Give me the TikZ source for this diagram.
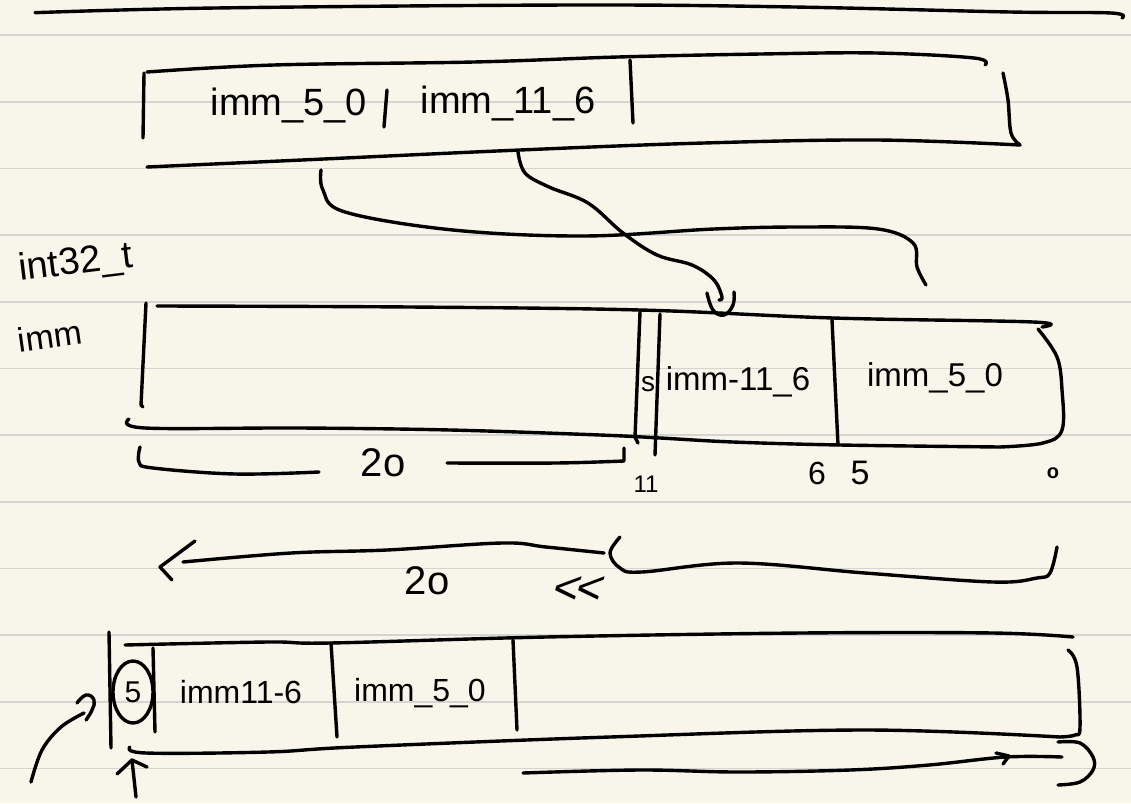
\documentclass[tikz,border=0pt]{standalone}
\usepackage{fontspec}
\setmainfont{Liberation Sans}
\definecolor{paper}{HTML}{F8F6EA}
\definecolor{ruling}{HTML}{D4D4D0}
\begin{document}
\begin{tikzpicture}[x=1pt,y=-1pt,
  ink/.style={line width=3.4pt,line cap=round,line join=round,black},
  txt/.style={inner sep=0pt,font=\fontsize{#1}{#1}\selectfont}]
% notebook page
\fill[paper] (0,0) rectangle (1131,803);
\useasboundingbox (0,0) rectangle (1131,803);
\foreach \y in {35,101.7,168.3,235,301.7,368.3,435,501.7,568.3,635,701.7,768.3}
  \draw[ruling,line width=1.6pt] (0,\y) -- (1131,\y);

% heading rule
\draw[ink] plot[smooth,tension=0.6] coordinates {(35,12.7) (216,8) (577,5) (794,7) (1010,12) (1111,13) (1122,18)};

% ---- instruction word ----
\draw[ink] (144,73) -- (143,138);
\draw[ink] plot[smooth,tension=0.6] coordinates {(147,72) (274,65) (474,62) (618,57) (761,54) (876,53) (974,58) (985,65)};
\draw[ink] plot[smooth,tension=0.6] coordinates {(1003,73) (1008,100) (1011,133) (1020,145)};
\draw[ink] plot[smooth,tension=0.6] coordinates {(147,167) (302,160) (520,150) (704,143) (876,140) (1020,145)};
\draw[ink] (387,90) -- (384,127);
\draw[ink] (630,60) -- (633,123);
\node[txt=38] (i50) at (289,106) {imm\_5\_0};
\node[txt=38] (i116) at (508,104) {imm\_11\_6};

% endpoints of the two field moves
\coordinate (a0) at (321,170);
\coordinate (a1) at (926,285);
\coordinate (b0) at (518,152);
\coordinate (b1) at (722,297);
\draw[ink] plot[smooth,tension=0.6] coordinates {(a0) (323,190) (345,212) (453,230) (584,236) (714,229) (800,227) (878,229) (913,243) (917,267) (a1)};
\draw[ink] plot[smooth,tension=0.6] coordinates {(b0) (525,173) (549,187) (588,203) (623,233) (657,255) (692,265) (714,280) (b1) (719,300)};
\draw[ink] plot[smooth,tension=0.7] coordinates {(707,293) (713,310) (724,315) (733,305) (734,292)};

% ---- int32_t imm ----
\node[txt=38,rotate=7] (ty) at (76,264) {int32\_t};
\node[txt=34,rotate=8] (nm) at (50,336) {imm};

\draw[ink] (146,303) -- (141,405) -- (143,407);
\draw[ink] plot[smooth,tension=0.6] coordinates {(157,306) (410,307) (640,310) (833,318) (1033,322) (1042,327)};
\draw[ink] plot[smooth,tension=0.6] coordinates {(1038,329) (1057,357) (1062,390) (1062,430) (1043,443) (1000,447)};
\draw[ink] plot[smooth,tension=0.6] coordinates {(129,419) (145,428) (300,428) (450,430) (600,435) (660,438) (733,442) (840,445) (1000,447)};
\draw[ink] (640,312) -- (635,437) -- (638,443);
\draw[ink] (660,314) -- (655,455);
\draw[ink] (832,320) -- (838,445);
\node[txt=28] (sg) at (648,384) {s};
\node[txt=33] (f116) at (738,382) {imm-11\_6};
\node[txt=33] (f50) at (935,378) {imm\_5\_0};
\node[txt=24] (b11) at (646,484) {11};
\node[txt=32] (b6) at (817,473) {6};
\node[txt=34] (b5) at (860,473) {5};
\node[txt=20,font=\fontsize{20}{20}\selectfont\bfseries] (bz) at (1053,473) {o};

% width brace under the upper bits
\draw[ink] plot[smooth,tension=0.6] coordinates {(140,447) (139,462) (153,468) (235,474) (319,472)};
\draw[ink] plot[smooth,tension=0.6] coordinates {(447,463) (556,463) (624,461)} -- (624,448);
\node[txt=40] (w1) at (383,463) {2o};

% ---- shift ----
\coordinate (s0) at (604,553);
\coordinate (s1) at (183,562);
\draw[ink] plot[smooth,tension=0.6] coordinates {(s0) (546,547) (502,543) (387,550) (291,553) (s1)};
\draw[ink] (195,541) -- (160,567) -- (172,580);
\draw[ink] plot[smooth,tension=0.6] coordinates {(620,537) (610,553) (620,568) (642,572) (738,563) (865,573) (993,582) (1037,578) (1050,573) (1057,547)};
\node[txt=40] (w2) at (427,581) {2o};
\node[txt=46,xslant=0.3] (sh) at (578,590) {{<}\kern-4pt{<}};

% ---- shifted result ----
\draw[ink] (109,632) -- (111,748);
\draw[ink] plot[smooth,tension=0.6] coordinates {(125,645) (268,642) (330,643) (546,637) (801,633) (993,633) (1073,637)};
\draw[ink] plot[smooth,tension=0.6] coordinates {(1068,650) (1077,667) (1080,727) (1075,735) (1060,737)};
\draw[ink] plot[smooth,tension=0.6] coordinates {(130,747) (146,753) (268,752) (355,747) (610,737) (865,730) (1060,737)};
\draw[ink] (153,648) -- (155,732);
\draw[ink] (331,643) -- (337,737);
\draw[ink] (513,640) -- (517,730);
\node[txt=30] (c5) at (133,692) {5};
\draw[ink] (c5) ellipse [x radius=20, y radius=31];
\node[txt=32] (r116) at (241,692) {imm11-6};
\node[txt=32] (r50) at (420,693) {imm\_5\_0};

% sign bit pointers
\coordinate (p0) at (31,782);
\coordinate (p1) at (84,713);
\draw[ink] plot[smooth,tension=0.6] coordinates {(p0) (42,750) (61,727) (p1)};
\draw[ink] plot[smooth,tension=0.8] coordinates {(77,703) (86,695) (94,700) (92,710) (86,720)};
\coordinate (q0) at (136,797);
\coordinate (q1) at (132,760);
\draw[ink] (q0) -- (q1);
\draw[ink] (117,774) -- (q1) -- (147,767);

% wrap-around under the result
\draw[ink] plot[smooth,tension=0.6] coordinates {(1058,742) (1080,743) (1093,757) (1093,770) (1080,782) (1058,785)};
\coordinate (u0) at (523,773);
\coordinate (u1) at (1062,757);
\draw[ink] plot[smooth,tension=0.6] coordinates {(u0) (640,770) (738,772) (850,770) (929,765) (1006,757) (u1)};
\draw[ink] (996,753) -- (1009,756) -- (1003,764);
\end{tikzpicture}
\end{document}
